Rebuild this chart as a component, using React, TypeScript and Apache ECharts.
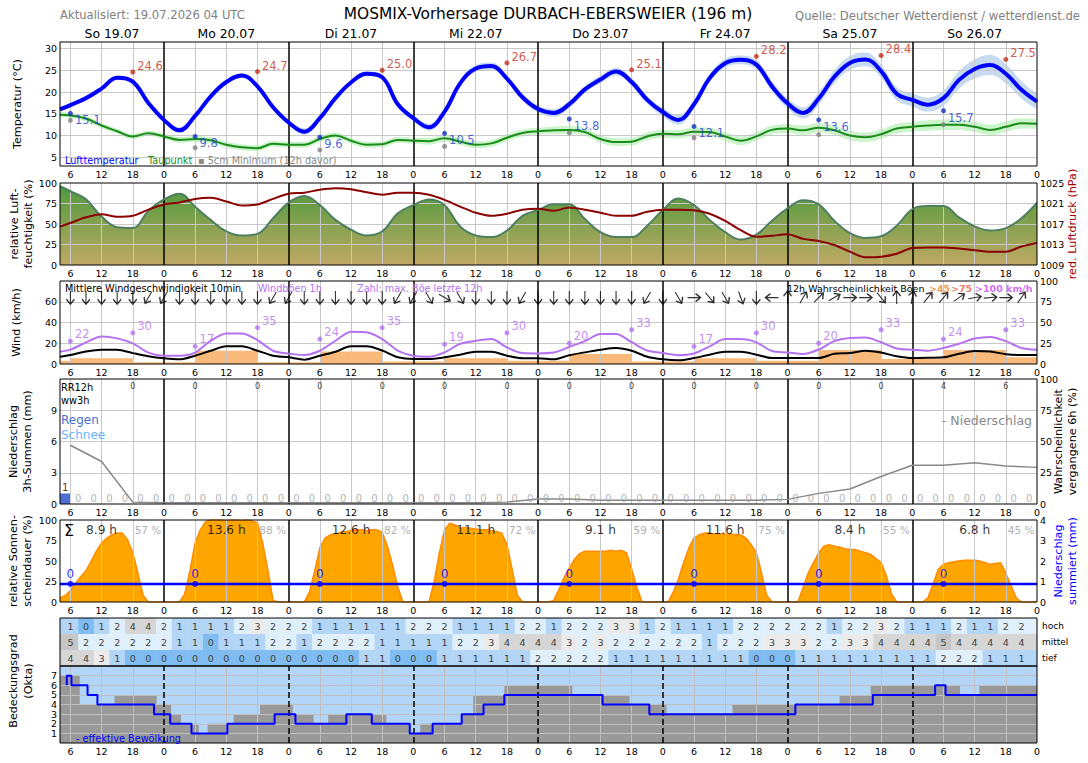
import React, { useEffect, useRef } from 'react';
import * as echarts from 'echarts';

const FONT = 'DejaVu Sans';
const X0 = 4;
const X1 = 192;

// ---------------- axis / tick data ----------------
const hourTicks = [6,12,18,24,30,36,42,48,54,60,66,72,78,84,90,96,102,108,114,120,126,132,138,144,150,156,162,168,174,180,186,192];
const dayLabels = ['So 19.07','Mo 20.07','Di 21.07','Mi 22.07','Do 23.07','Fr 24.07','Sa 25.07','So 26.07'];
const dayCenters = [14,36,60,84,108,132,156,180];
const dayStarts = [24,48,72,96,120,144,168];

// ---------------- temperature panel ----------------
const tHours = [4,6,9,12,15,18,21,24,27,30,33,36,39,42,45,48,51,54,57,60,63,66,69,72,75,78,81,84,87,90,93,96,99,102,105,108,111,114,117,120,123,126,129,132,135,138,141,144,147,150,153,156,159,162,165,168,171,174,177,180,183,186,189,192];
const temperature = [16.0,17.0,18.6,20.8,23.3,22.4,17.5,13.6, 11.2,14.5,19.0,22.3,23.8,21.3,16.5,13.0, 10.9,14.0,18.6,22.2,24.2,23.4,17.2,14.0, 11.9,15.5,22.0,25.4,26.0,23.1,18.8,16.1, 15.2,17.2,20.6,22.9,24.7,22.3,18.2,15.4, 13.6,17.2,23.2,26.6,27.4,26.3,21.3,17.4, 15.2,18.5,23.5,26.7,27.5,24.8,19.6,18.2, 17.1,18.6,22.8,25.3,26.2,24.2,20.5,17.8];
const tempSpread = [0.4,0.4,0.4,0.5,0.5,0.5,0.5,0.5, 0.7,0.6,0.5,0.5,0.5,0.5,0.6,0.6, 0.8,0.6,0.5,0.5,0.6,0.6,0.6,0.6, 0.8,0.7,0.7,0.8,0.8,0.7,0.8,0.8, 0.9,0.9,0.8,0.9,0.9,0.9,0.9,1.0, 1.1,1.0,1.0,1.0,1.0,1.1,1.2,1.2, 1.3,1.4,1.5,1.6,1.6,1.5,1.5,1.5, 1.6,1.8,2.0,2.2,2.3,2.2,2.0,1.8];
const dewPoint = [14.8,14.6,13.9,12.3,11.0,9.8,10.5,9.8, 9.0,9.2,8.9,7.9,7.3,7.1,8.1,7.9, 7.9,9.2,10.0,8.8,7.9,8.0,9.0,8.8, 8.7,9.4,8.6,7.9,8.2,9.5,10.6,11.0, 11.2,11.3,10.8,9.2,8.5,8.6,9.8,10.4, 10.3,10.9,10.8,9.8,8.8,9.8,11.3,11.6, 11.2,11.8,11.2,10.0,9.6,10.3,11.6,12.0, 12.3,12.5,12.5,12.0,11.3,12.0,12.8,12.7];
const dewSpread = [0.6,0.6,0.6,0.6,0.6,0.6,0.6,0.6, 0.7,0.7,0.7,0.7,0.7,0.7,0.7,0.7, 0.7,0.7,0.7,0.7,0.7,0.7,0.7,0.7, 0.8,0.8,0.8,0.8,0.8,0.8,0.8,0.8, 0.9,0.9,0.9,0.9,0.9,0.9,0.9,0.9, 1.0,1.0,1.0,1.0,1.0,1.0,1.0,1.0, 1.1,1.1,1.1,1.1,1.1,1.1,1.1,1.1, 1.2,1.2,1.2,1.2,1.2,1.2,1.2,1.2];
const maxHours = [18,42,66,90,114,138,162,186];
const tempMax = [24.6,24.7,25.0,26.7,25.1,28.2,28.4,27.5];
const minHours = [6,30,54,78,102,126,150,174];
const tempMin = [15.1,9.8,9.6,10.5,13.8,12.1,13.6,15.7];
const ground5cmMin = [13.5,7.2,6.7,7.5,10.6,9.5,10.2,12.5];

// ---------------- humidity / pressure ----------------
const humidity = [96,90,80,59,46,45,66,80, 87,71,55,41,36,38,57,76, 84,73,55,43,36,41,63,73, 80,73,47,36,34,42,60,67, 74,74,56,40,34,34,48,67, 81,73,55,40,31,37,54,69, 79,74,54,39,33,35,48,68, 72,72,58,47,42,45,57,76];
const pressure = [1016.5,1017.2,1018.3,1018.9,1018.4,1018.6,1019.8,1020.8, 1021.2,1021.9,1022.1,1021.4,1020.6,1020.8,1021.9,1022.9, 1023.1,1023.7,1024.0,1023.8,1023.2,1022.7,1023.1,1023.1, 1022.7,1021.7,1020.4,1019.2,1018.6,1019.0,1019.8,1020.0, 1019.6,1020.2,1019.8,1019.2,1018.6,1018.6,1019.4,1019.8, 1019.8,1019.7,1019.0,1017.6,1015.8,1014.5,1014.7,1015.0, 1014.1,1013.7,1012.9,1011.6,1010.5,1010.6,1011.2,1012.3, 1012.4,1012.4,1012.2,1011.9,1011.6,1011.6,1012.6,1013.3];

// ---------------- wind ----------------
const windMean = [7,8.7,12,13.8,13.8,10.5,7.5,5.5, 4.5,8,12.8,17,17,12.8,8,6.4, 4.2,8,11.8,17,17,13,6.5,4.8, 4.8,6.4,9,11.8,11.8,8,5.5,5.5, 4.5,8.5,11.2,13.8,15.4,12.8,7,4.5, 3.5,5.8,9,11.8,11.8,9,5.8,5.8, 5.8,5.8,9.8,10.5,12.8,11,7.5,5.8, 6,6.4,9.8,12.5,12,9.5,8.7,8.7];
const windGust = [11.8,13.8,20.8,26.6,24.7,19.9,11,8, 8,11,22.4,29.5,29.5,23,12.8,10, 8.7,12.8,22.4,31.1,30.5,24,13,8, 7,11.2,19.5,22.4,24,16,10.5,10.2, 11,16.5,22,28.9,28.9,21,13,10.5, 8.5,10.2,17,24,24,20.8,12.5,11.2, 9.6,14,22,25,25.5,21,15,13.8, 12.8,15.5,19.5,24.5,26,22,15.5,13.8];
const gustMaxHours = [6,18,30,42,54,66,78,90,102,114,126,138,150,162,174,186];
const gustMax = [22,30,17,35,24,35,19,30,20,33,17,30,20,33,24,33];
const gustProbStart = [4,6,18,30,42,54,66,78,90,102,114,126,138,150,162,174,186,192];
const gustProb45 = [4,7,2,16,2,15,3,7,4,12,3,7,4,17,6,17,8,8];
const arrowHours = [6,9,12,15,18,21,24,27,30,33,36,39,42,45,48,51,54,57,60,63,66,69,72,75,78,81,84,87,90,93,96,99,102,105,108,111,114,117,120,123,126,129,132,135,138,141,144,147,150,153,156,159,162,165,168,171,174,177,180,183,186,189];
const windDirFrom = [0,0,0,0,0,30,30,0, 0,0,0,0,0,30,30,0, 0,0,0,0,0,30,30,330, 300,330,0,0,0,30,0,0, 0,0,0,0,0,30,0,330, 270,320,330,340,0,90,180,210, 225,240,270,270,320,180,190,220, 220,235,260,265,270,215];

// ---------------- precipitation ----------------
const precipWinEnd = [6,9,12,15,18,21,24,27,30,33,36,39,42,45,48,51,54,57,60,63,66,69,72,75,78,81,84,87,90,93,96,99,102,105,108,111,114,117,120,123,126,129,132,135,138,141,144,147,150,153,156,159,162,165,168,171,174,177,180,183,186,189,192];
const precip3h = [1, 0,0,0,0,0,0, 0,0,0,0,0,0,0,0, 0,0,0,0,0,0,0,0, 0,0,0,0,0,0,0,0, 0,0,0,0,0,0,0,0, 0,0,0,0,0,0,0,0, 0,0,0,0,0,0,0,0, 0,0,0,0,0,0,0,0];
const precipProbHours = [6,12,18,24,30,36,42,48,54,60,66,72,78,84,90,96,102,108,114,120,126,132,138,144,150,156,162,168,174,180,186,192];
const precipProb = [47,34,1.5,1,1,1,1,1,1,1,1,1,1,1,1.5,4,4,3,3,3,3,3,3,3.7,8.5,12,22,31,31,33,30.4,29.3];
const rr12Hours = [18,30,42,54,66,78,90,102,114,126,138,150,162,174,186];
const rr12 = [0,0,0,0,0,0,0,0,0,0,0,0,0,4,6];

// ---------------- sunshine ----------------
const sunshine = [
  5,8,14,23,31,38,50,62,72,78,82,84,84,76,60,35,8,0,0,0,0,
  0,0,0,10,38,72,88,98,100,100,100,99,100,100,99,100,99,96,72,39,2,0,0,0,
  0,0,0,12,38,66,78,82,83,85,86,87,88,88,87,88,88,85,68,45,18,0,0,0,
  0,0,0,25,60,88,96,94,90,91,90,89,88,88,87,86,84,70,40,8,0,0,0,0,
  0,0,2,15,30,42,52,59,62,62,62,62,62,63,62,63,60,40,18,0,0,0,0,0,
  0,12,28,48,66,78,82,84,84,83,83,83,83,82,82,78,70,60,35,8,0,0,0,0,
  0,0,18,36,48,60,68,70,68,67,65,64,64,62,60,58,53,48,32,10,0,0,0,0,
  0,0,5,22,40,46,48,49,50,51,51,51,50,48,46,47,48,35,20,5,0,0,0,0
];
const sunHoursText = ['8.9 h','13.6 h','12.6 h','11.1 h','9.1 h','11.6 h','8.4 h','6.8 h'];
const sunPercent = [57,88,82,72,59,75,55,45];
const dayEnds = [24,48,72,96,120,144,168,192];
const precipSumHours = [4,192];
const precipSum = [0.88,0.88];
const dailyPrecipHours = [6,30,54,78,102,126,150,174];
const dailyPrecip = [0,0,0,0,0,0,0,0];

// ---------------- cloud table ----------------
const tableHours = arrowHours;
const cloudHigh = [1,0,1,2,4,4,2,1,1,1,1,2,3,2,2,2,1,1,1,1,1,1, 2,2,2,1,1,1,1,2,2,1,2,2,2,3,3,1,2,1, 1,1,1,2,2,2,2,2,2,1,2,2,3,2,1,1,1,2,1,1,2,2];
const cloudMid = [5,2,2,2,2,2,2,1,1,0,1,1,1,2,2,1,2,2,2,2,1,1, 1,1,1,2,2,3,4,4,4,4,3,2,3,2,2,2,2,2, 2,1,2,2,2,3,3,3,2,2,3,3,4,4,4,4,5,4,4,4,4,4];
const cloudLow = [4,4,3,1,0,0,0,0,0,0,0,0,0,0,0,0,0,0,0,1,1,0, 0,0,1,1,1,1,1,1,2,2,2,2,2,1,1,1,1,1, 1,1,1,1,0,0,0,1,1,1,1,1,1,1,1,1,2,2,2,1,1,1];
const cloudLevelColors = ['#7fbcf1','#b3d6f6','#e0f0fa','#ebebeb','#d6d6d6','#c6c6c6','#b4b4b4','#a4a4a4','#949494'];

// ---------------- cloud cover (okta) ----------------
const cloudTotalX = [4,7.8,14.5,22.6,25.4,27.3,30.7,32.4,37.4,42.5,48.8,52.8,55.6,66.8,71.3,73.3,81.3,83.5,89.5,102.6,113.6,120.7,133.4,154,160,177.2,180.9,192];
const cloudTotal = [7,4,5,4,3,2,1,2,3,4,3,2,3,2,1,2,3,5,6,5,4,3,4,5,6,5,6,6];
const cloudEffX = [5.3,5.3,6.2,9.3,11.2,22.1,25.2,29.3,36.2,45.3,49.3,59.1,64,71.3,75.7,81.3,85.5,89.5,108.4,117.4,145.5,160.4,172.4,174.4,192];
const cloudEff = [6,7,6,5,4,3,2,1,2,3,2,3,2,1,2,3,4,5,4,3,4,5,6,5,5];

// ---------------- layout ----------------
const gridBoxes: [number, number][] = [[42,124],[183,82],[281,83],[379,125],[520,82],[618,48],[666,77]];

const pts = (hs: number[], vs: number[]) => hs.map((h, i) => [h, vs[i]]);

function gridLines(xi: number, yi: number, yVals: number[], dashedDays = false, color = '#c8c8c8') {
  return {
    type: 'line', xAxisIndex: xi, yAxisIndex: yi, data: [], silent: true, z: 2,
    markLine: {
      silent: true, symbol: ['none', 'none'], z: 2,
      label: { show: false },
      lineStyle: { color, width: 1, type: 'solid' },
      emphasis: { disabled: true },
      data: [
        ...hourTicks.filter(h => h % 24 !== 0).map(h => ({ xAxis: h })),
        ...yVals.map(v => ({ yAxis: v })),
        ...dayStarts.map(h => ({ xAxis: h, lineStyle: { color: '#000', width: 1.5, type: dashedDays ? 'dashed' : 'solid' } })),
      ],
    },
  };
}

function yAx(gridIndex: number, min: number, max: number, labels: number[], extra: any = {}) {
  return {
    type: 'value', gridIndex, min, max,
    axisLine: { show: false }, splitLine: { show: false },
    axisTick: { show: false, customValues: labels },
    axisLabel: { customValues: labels, formatter: (v: number) => String(v), fontSize: 9.5, color: '#000', fontFamily: FONT, margin: 3 },
    nameLocation: 'middle', nameRotate: 90, nameMoveOverlap: false,
    nameTextStyle: { fontSize: 11.2, color: '#000', fontFamily: FONT, lineHeight: 14.5 },
    ...extra,
  };
}

function buildOption(): any {
  const grid = gridBoxes.map(([top, height]) => ({
    left: 60, width: 977, top, height, show: true, borderColor: '#000', borderWidth: 1,
    backgroundColor: 'transparent', z: 10, containLabel: false, outerBoundsMode: 'none',
  }));

  const xAxis: any[] = gridBoxes.map((_, i) => ({
    type: 'value', gridIndex: i, min: X0, max: X1,
    axisLine: { show: false }, splitLine: { show: false },
    axisTick: { show: false, customValues: hourTicks },
    axisLabel: { show: i !== 5, customValues: hourTicks, formatter: (v: number) => String(v % 24), margin: 3, fontSize: 9.5, color: '#000', fontFamily: FONT },
  }));
  xAxis.push({
    type: 'value', gridIndex: 0, position: 'top', min: X0, max: X1,
    axisLine: { show: false }, splitLine: { show: false },
    axisTick: { show: false, customValues: dayCenters },
    axisLabel: { customValues: dayCenters, formatter: (v: number) => dayLabels[dayCenters.indexOf(v)] ?? '', margin: 3, fontSize: 12.4, color: '#000', fontFamily: FONT },
  });

  const yAxis: any[] = [
    yAx(0, 3, 31.5, [5,10,15,20,25,30], { name: 'Temperatur (°C)', nameGap: 35 }),
    yAx(1, 0, 100, [0,25,50,75,100], { name: 'relative Luft-\nfeuchtigkeit (%)', nameGap: 24 }),
    yAx(1, 1009, 1025, [1009,1013,1017,1021,1025], { position: 'right', name: 'red. Luftdruck (hPa)', nameGap: 30, nameTextStyle: { fontSize: 11.2, color: '#a00000', fontFamily: FONT } }),
    yAx(2, 0, 80, [0,20,40,60], { name: 'Wind (km/h)', nameGap: 36 }),
    yAx(2, 0, 100, [0,25,50,75,100], { position: 'right' }),
    yAx(3, 0, 12, [0,3,6,9], { name: 'Niederschlag\n3h-Summen (mm)', nameGap: 25 }),
    yAx(3, 0, 100, [0,25,50,75,100], { position: 'right', name: 'Wahrscheinlichkeit\nvergangene 6h (%)', nameGap: 14 }),
    yAx(4, 0, 100, [0,25,50,75,100], { name: 'relative Sonnen-\nscheindauer (%)', nameGap: 25 }),
    yAx(4, 0, 4, [0,1,2,3,4], { position: 'right', name: 'Niederschlag\nsummiert (mm)', nameGap: 14, nameTextStyle: { fontSize: 11.2, color: '#0000ff', fontFamily: FONT, lineHeight: 14.5 } }),
    {
      type: 'category', gridIndex: 5, position: 'right', data: ['tief', 'mittel', 'hoch'],
      axisLine: { show: false }, axisTick: { show: false }, splitLine: { show: false },
      axisLabel: { fontSize: 9, color: '#000', fontFamily: FONT, margin: 5 },
    },
    yAx(6, 0, 8, [0,1,2,3,4,5,6,7,8]),
  ];

  const tempHi = temperature.map((t, i) => t + tempSpread[i]);
  const tempLo = temperature.map((t, i) => t - tempSpread[i]);
  const dewHi = dewPoint.map((t, i) => t + dewSpread[i]);
  const dewLo = dewPoint.map((t, i) => t - dewSpread[i]);
  const fillLine = (xi: number, yi: number, data: number[][], color: any, extra: any = {}) => ({
    type: 'line', xAxisIndex: xi, yAxisIndex: yi, data, symbol: 'none', smooth: 0.4,
    lineStyle: { opacity: 0 }, areaStyle: { color, opacity: 1, origin: 'start' }, z: 1, silent: true, ...extra,
  });
  const line = (xi: number, yi: number, data: number[][], color: string, width: number, extra: any = {}) => ({
    type: 'line', xAxisIndex: xi, yAxisIndex: yi, data, symbol: 'none', smooth: 0.4,
    lineStyle: { color, width }, z: 3, silent: true, ...extra,
  });
  const labelStyle = (color: string, fontSize: number) => ({ color, fontSize, fontFamily: FONT });

  const series: any[] = [];

  // ---- temperature panel ----
  series.push(fillLine(0, 0, pts(tHours, tempHi), '#c6daf0'));
  series.push(fillLine(0, 0, pts(tHours, tempLo), '#ffffff'));
  series.push(fillLine(0, 0, pts(tHours, dewHi), '#ccf5cc'));
  series.push(fillLine(0, 0, pts(tHours, dewLo), '#ffffff'));
  series.push(gridLines(0, 0, [5,10,15,20,25,30]));
  series.push(line(0, 0, pts(tHours, dewPoint), '#1a8c1a', 2));
  series.push(line(0, 0, pts(tHours, temperature), '#0000ff', 4));
  series.push({
    type: 'scatter', xAxisIndex: 0, yAxisIndex: 0, data: pts(maxHours, tempMax), symbolSize: 5, z: 4,
    itemStyle: { color: '#c0301c' },
    label: { show: true, position: 'right', distance: 2, offset: [0, -6], formatter: (p: any) => p.value[1].toFixed(1), ...labelStyle('#c0301c', 11.5) },
  });
  series.push({
    type: 'scatter', xAxisIndex: 0, yAxisIndex: 0, data: pts(minHours, tempMin), symbolSize: 5, z: 4,
    itemStyle: { color: '#1030c0' },
    label: { show: true, position: 'right', distance: 2, offset: [0, 7], formatter: (p: any) => p.value[1].toFixed(1), ...labelStyle('#1a3fd0', 11.5) },
  });
  series.push({
    type: 'scatter', xAxisIndex: 0, yAxisIndex: 0, data: pts(minHours, ground5cmMin), symbolSize: 5, z: 4,
    itemStyle: { color: '#808080' },
  });

  // ---- humidity / pressure ----
  series.push(fillLine(1, 1, pts(tHours, humidity), new echarts.graphic.LinearGradient(0, 0, 0, 1, [
    { offset: 0, color: '#4f9a3d' }, { offset: 1, color: '#bfa964' },
  ])));
  series.push(gridLines(1, 1, [25, 50, 75]));
  series.push(line(1, 1, pts(tHours, humidity), '#4e7f60', 2));
  series.push(line(1, 2, pts(tHours, pressure), '#8b0000', 2, { smooth: 0.3 }));

  // ---- wind ----
  series.push({
    type: 'line', xAxisIndex: 2, yAxisIndex: 4, step: 'end', data: pts(gustProbStart, gustProb45), symbol: 'none',
    lineStyle: { opacity: 0 }, areaStyle: { color: '#f9b97a', opacity: 1, origin: 'start' }, z: 1, silent: true,
  });
  series.push(gridLines(2, 3, [20, 40, 60]));
  series.push(line(2, 3, pts(tHours, windMean), '#000000', 2, { smooth: 0.3 }));
  series.push(line(2, 3, pts(tHours, windGust), '#b472f0', 2, { smooth: 0.3 }));
  series.push({
    type: 'scatter', xAxisIndex: 2, yAxisIndex: 3, data: pts(gustMaxHours, gustMax), symbolSize: 5, z: 4,
    itemStyle: { color: '#b472f0' },
    label: { show: true, position: 'right', distance: 2, offset: [0, -7], formatter: (p: any) => String(p.value[1]), ...labelStyle('#b472f0', 11.5) },
  });
  series.push({
    type: 'scatter', xAxisIndex: 2, yAxisIndex: 3, z: 4, silent: true,
    symbol: 'path://M5,0 L5,16 M1,6 L5,0 L9,6', symbolSize: [8, 13],
    itemStyle: { color: 'none', borderColor: '#000', borderWidth: 1.4 },
    data: arrowHours.map((h, i) => ({ value: [h, 64], symbolRotate: -(windDirFrom[i] + 180) })),
  });

  // ---- precipitation ----
  const precipStep: number[][] = precipWinEnd.map((e, i) => [Math.max(e - 3, X0), precip3h[i]]);
  precipStep.push([X1, precip3h[precip3h.length - 1]]);
  series.push({
    type: 'line', xAxisIndex: 3, yAxisIndex: 5, step: 'end', data: precipStep, symbol: 'none',
    lineStyle: { opacity: 0 }, areaStyle: { color: '#4a6fd0', opacity: 1, origin: 'start' }, z: 1, silent: true,
  });
  series.push(gridLines(3, 5, [3, 6, 9]));
  series.push(line(3, 6, pts(precipProbHours, precipProb), '#888888', 1.5, { smooth: false }));
  series.push({
    type: 'scatter', xAxisIndex: 3, yAxisIndex: 5, symbolSize: 0, z: 4, silent: true,
    data: precipWinEnd.map((e, i) => ({
      value: [(Math.max(e - 3, X0) + e) / 2, precip3h[i]],
      label: { color: precip3h[i] > 0 ? '#000' : '#a0a0a0' },
    })),
    label: { show: true, position: 'top', distance: 1, formatter: (p: any) => String(p.value[1]), fontSize: 10, fontFamily: FONT },
  });
  series.push({
    type: 'scatter', xAxisIndex: 3, yAxisIndex: 5, symbolSize: 0, z: 4, silent: true,
    data: rr12Hours.map((h, i) => ({ value: [h, 11.3], name: String(rr12[i]) })),
    label: { show: true, position: 'inside', formatter: '{b}', ...labelStyle('#000', 8) },
  });

  // ---- sunshine ----
  series.push({
    type: 'line', xAxisIndex: 4, yAxisIndex: 7, data: sunshine.map((v, i) => [X0 + i, v]), symbol: 'none',
    lineStyle: { color: '#ff8c00', width: 1.5 }, areaStyle: { color: '#ffa500', opacity: 1, origin: 'start' }, z: 1, silent: true,
  });
  series.push(gridLines(4, 7, []));
  series.push(line(4, 8, pts(precipSumHours, precipSum), '#0000ff', 2.5, { smooth: false }));
  series.push({
    type: 'scatter', xAxisIndex: 4, yAxisIndex: 8, symbolSize: 6, z: 4, silent: true,
    itemStyle: { color: '#0000ff' },
    data: dailyPrecipHours.map((h, i) => ({ value: [h, precipSum[0]], name: String(dailyPrecip[i]) })),
    label: { show: true, position: 'top', distance: 1, formatter: '{b}', ...labelStyle('#0000ff', 12) },
  });
  series.push({
    type: 'scatter', xAxisIndex: 4, yAxisIndex: 7, symbolSize: 0, z: 4, silent: true,
    data: dayEnds.map((e, i) => ({ value: [e - 12, 88], name: sunHoursText[i] })),
    label: { show: true, position: 'inside', formatter: '{b}', ...labelStyle('#000', 12.2) },
  });
  series.push({
    type: 'scatter', xAxisIndex: 4, yAxisIndex: 7, symbolSize: 0, z: 4, silent: true,
    data: dayEnds.map((e, i) => ({ value: [e - 0.5, 88], name: sunPercent[i] + ' %' })),
    label: { show: true, position: 'left', distance: 0, formatter: '{b}', ...labelStyle('#999999', 10.5) },
  });

  // ---- cloud table ----
  const tableData: number[][] = [];
  [cloudLow, cloudMid, cloudHigh].forEach((row, r) => row.forEach((v, i) => tableData.push([tableHours[i], r, v])));
  const firstH = tableHours[0];
  const lastH = tableHours[tableHours.length - 1];
  series.push({
    type: 'custom', xAxisIndex: 5, yAxisIndex: 9, data: tableData, z: 3, silent: true,
    renderItem: (_params: any, api: any) => {
      const h = api.value(0);
      const r = api.value(1);
      const v = api.value(2);
      const a = h === firstH ? X0 : h - 1.5;
      const b = h === lastH ? X1 : h + 1.5;
      const p0 = api.coord([a, r]);
      const p1 = api.coord([b, r]);
      const pc = api.coord([h, r]);
      const bh = api.size([0, 1])[1];
      return {
        type: 'group',
        children: [
          { type: 'rect', shape: { x: p0[0], y: p0[1] - bh / 2, width: p1[0] - p0[0] + 0.5, height: bh }, style: { fill: cloudLevelColors[v] } },
          { type: 'text', x: pc[0], y: pc[1], style: { text: String(v), align: 'center', verticalAlign: 'middle', fontSize: 9.5, fontFamily: FONT, fill: '#404040' } },
        ],
      };
    },
  });

  // ---- cloud cover ----
  series.push(fillLine(6, 10, [[X0, 8], [X1, 8]], '#b3d5f7', { smooth: false, z: 0 }));
  series.push({
    type: 'line', xAxisIndex: 6, yAxisIndex: 10, step: 'end', data: pts(cloudTotalX, cloudTotal), symbol: 'none',
    lineStyle: { opacity: 0 }, areaStyle: { color: '#999999', opacity: 1, origin: 'start' }, z: 1, silent: true,
  });
  series.push(gridLines(6, 10, [1,2,3,4,5,6,7], true, '#c0c0c0'));
  series.push({
    type: 'line', xAxisIndex: 6, yAxisIndex: 10, step: 'end', data: pts(cloudEffX, cloudEff), symbol: 'none',
    lineStyle: { color: '#0000ff', width: 2 }, z: 3, silent: true,
  });

  const txt = (x: number, y: number, text: string, fill: string, fontSize: number, extra: any = {}) => ({
    type: 'text', x, y, z: 20, silent: true,
    style: { text, fill, fontSize, fontFamily: FONT, align: 'left', verticalAlign: 'middle', ...extra },
  });

  const graphic = [
    txt(548, 14, 'MOSMIX-Vorhersage DURBACH-EBERSWEIER (196 m)', '#000', 15.4, { align: 'center' }),
    txt(60, 15, 'Aktualisiert: 19.07.2026 04 UTC', '#808080', 11.6),
    txt(1080, 16, 'Quelle: Deutscher Wetterdienst / wetterdienst.de', '#808080', 11.6, { align: 'right' }),
    txt(65, 160, 'Lufttemperatur', '#0000ff', 9.7),
    txt(148, 160, 'Taupunkt', '#1a8c1a', 9.7),
    txt(198, 160, '▪ 5cm Minimum (12h davor)', '#888888', 9.7),
    txt(65, 288, 'Mittlere Windgeschwindigkeit 10min', '#000', 9.7),
    txt(258, 288, 'Windböen 1h', '#b472f0', 9.7),
    txt(357, 288, 'Zahl: max. Böe letzte 12h', '#b472f0', 9.7),
    txt(787, 288, '12h Wahrscheinlichkeit Böen', '#000', 9.5),
    txt(929, 288, '>45', '#f0a060', 9.5, { fontWeight: 'bold' }),
    txt(951, 288, '>75', '#f08070', 9.5, { fontWeight: 'bold' }),
    txt(975, 288, '>100 km/h', '#d070f0', 9.5, { fontWeight: 'bold' }),
    txt(61, 387, 'RR12h', '#000', 9.8),
    txt(61, 400, 'ww3h', '#000', 9.8),
    txt(61, 420, 'Regen', '#4a6fd0', 12),
    txt(61, 435, 'Schnee', '#6ab4ff', 12),
    txt(1032, 420, '- Niederschlag', '#888888', 12.5, { align: 'right' }),
    txt(64, 530, 'Σ', '#000', 16),
    txt(76, 738, '- effektive Bewölkung', '#0000ff', 9.7),
    {
      type: 'text', x: 21, y: 681, rotation: Math.PI / 2, z: 20, silent: true,
      style: { text: 'Bedeckungsgrad\n(Okta)', fill: '#000', fontSize: 11.2, fontFamily: FONT, align: 'center', verticalAlign: 'middle', lineHeight: 14.5 },
    },
  ];

  return {
    animation: false,
    backgroundColor: '#ffffff',
    textStyle: { fontFamily: FONT },
    grid, xAxis, yAxis, series, graphic,
  };
}

export default function App() {
  const ref = useRef<HTMLDivElement>(null);
  useEffect(() => {
    document.body.style.margin = '0';
    const chart = echarts.init(ref.current as HTMLDivElement, undefined, { renderer: 'svg' });
    chart.setOption(buildOption());
    return () => chart.dispose();
  }, []);
  return <div ref={ref} style={{ width: 1088, height: 763 }} />;
}
